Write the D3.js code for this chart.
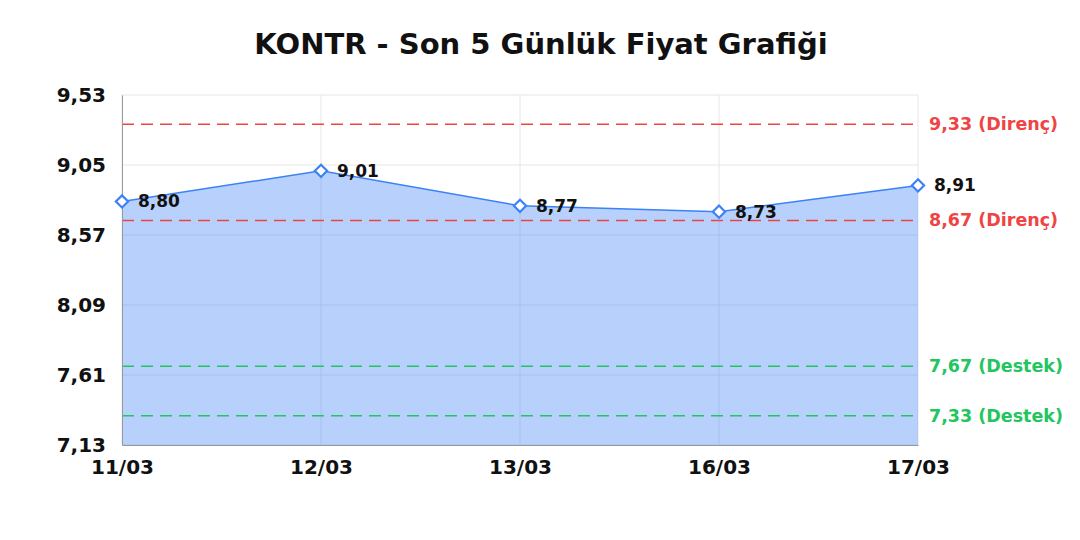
<!DOCTYPE html>
<html>
<head>
<meta charset="utf-8">
<script src="https://cdn.jsdelivr.net/npm/d3@7"></script>
<style>
  body { margin: 0; background: #fff; }
</style>
</head>
<body>
<div id="chart"></div>
<script>
    let dates = ["11/03", "12/03", "13/03", "16/03", "17/03"];
    let prices = [8.80, 9.01, 8.77, 8.73, 8.91];
    let yTicks = [9.53, 9.05, 8.57, 8.09, 7.61, 7.13];
    let levelValues = [9.33, 8.67, 7.67, 7.33];
    let levelNames = ["Direnç", "Direnç", "Destek", "Destek"];
    let title = "KONTR - Son 5 Günlük Fiyat Grafiği";

    let w = 1080;
    let h = 540;
    let m = { left: 122, right: 162, top: 95, bottom: 95 };
    let font = "'DejaVu Sans', Verdana, sans-serif";

    let fmt = (v) => v.toFixed(2).replace(".", ",");

    let svg = d3.select("#chart")
        .append("svg")
        .attr("width", w)
        .attr("height", h)
        .style("font-family", font)
        .style("font-weight", "bold");

    let x = d3.scalePoint()
        .domain(dates)
        .range([m.left, w - m.right]);

    let y = d3.scaleLinear()
        .domain([7.13, 9.53])
        .range([h - m.bottom, m.top]);

    // grid
    svg.append("g")
        .selectAll("line")
        .data(yTicks)
        .enter()
        .append("line")
        .attr("x1", m.left)
        .attr("x2", w - m.right)
        .attr("y1", (d) => y(d))
        .attr("y2", (d) => y(d))
        .attr("stroke", "#e6e6e6")
        .attr("stroke-width", 1);

    svg.append("g")
        .selectAll("line")
        .data(dates)
        .enter()
        .append("line")
        .attr("x1", (d) => x(d))
        .attr("x2", (d) => x(d))
        .attr("y1", m.top)
        .attr("y2", h - m.bottom)
        .attr("stroke", "#e6e6e6")
        .attr("stroke-width", 1);

    // area + line
    let area = d3.area()
        .x((d, i) => x(dates[i]))
        .y0(y(7.13))
        .y1((d) => y(d));

    let line = d3.line()
        .x((d, i) => x(dates[i]))
        .y((d) => y(d));

    svg.append("path")
        .datum(prices)
        .attr("d", area)
        .attr("fill", "#3b82f6")
        .attr("fill-opacity", 0.37);

    svg.append("path")
        .datum(prices)
        .attr("d", line)
        .attr("fill", "none")
        .attr("stroke", "#3b82f6")
        .attr("stroke-width", 1.5);

    // support / resistance lines
    let levelColor = (i) => levelNames[i] === "Direnç" ? "#ef4444" : "#22c55e";

    svg.append("g")
        .selectAll("line")
        .data(levelValues)
        .enter()
        .append("line")
        .attr("x1", m.left)
        .attr("x2", w - m.right)
        .attr("y1", (d) => y(d))
        .attr("y2", (d) => y(d))
        .attr("stroke", (d, i) => levelColor(i))
        .attr("stroke-width", 1.5)
        .attr("stroke-dasharray", "12,7");

    svg.append("g")
        .selectAll("text")
        .data(levelValues)
        .enter()
        .append("text")
        .attr("x", w - m.right + 11)
        .attr("y", (d) => y(d) + 6)
        .style("font-size", "17.5px")
        .attr("fill", (d, i) => levelColor(i))
        .text((d, i) => fmt(d) + " (" + levelNames[i] + ")");

    // axes
    let yAxis = d3.axisLeft(y)
        .tickValues(yTicks)
        .tickSize(0)
        .tickPadding(16)
        .tickFormat(fmt);

    let gy = svg.append("g")
        .attr("transform", "translate(" + m.left + ",0)")
        .call(yAxis)
        .attr("font-family", null)
        .attr("font-size", null);
    gy.select(".domain").attr("stroke", "#999");
    gy.selectAll("text")
        .style("font-size", "20px")
        .attr("fill", "#111");

    let xAxis = d3.axisBottom(x)
        .tickSize(0)
        .tickPadding(15);

    let gx = svg.append("g")
        .attr("transform", "translate(0," + (h - m.bottom) + ")")
        .call(xAxis)
        .attr("font-family", null)
        .attr("font-size", null);
    gx.select(".domain").attr("stroke", "#999");
    gx.selectAll("text")
        .style("font-size", "20px")
        .attr("fill", "#111");

    // markers
    svg.append("g")
        .selectAll("path")
        .data(prices)
        .enter()
        .append("path")
        .attr("d", d3.symbol().type(d3.symbolDiamond2).size(95))
        .attr("transform", (d, i) => "translate(" + x(dates[i]) + "," + y(d) + ")")
        .attr("fill", "#fff")
        .attr("stroke", "#3b82f6")
        .attr("stroke-width", 2.2);

    svg.append("g")
        .selectAll("text")
        .data(prices)
        .enter()
        .append("text")
        .attr("x", (d, i) => x(dates[i]) + 16)
        .attr("y", (d) => y(d) + 6)
        .style("font-size", "17px")
        .attr("fill", "#111")
        .text((d) => fmt(d));

    svg.append("text")
        .attr("x", 541)
        .attr("y", 54)
        .attr("text-anchor", "middle")
        .style("font-size", "29px")
        .attr("fill", "#111")
        .text(title);
</script>
</body>
</html>
